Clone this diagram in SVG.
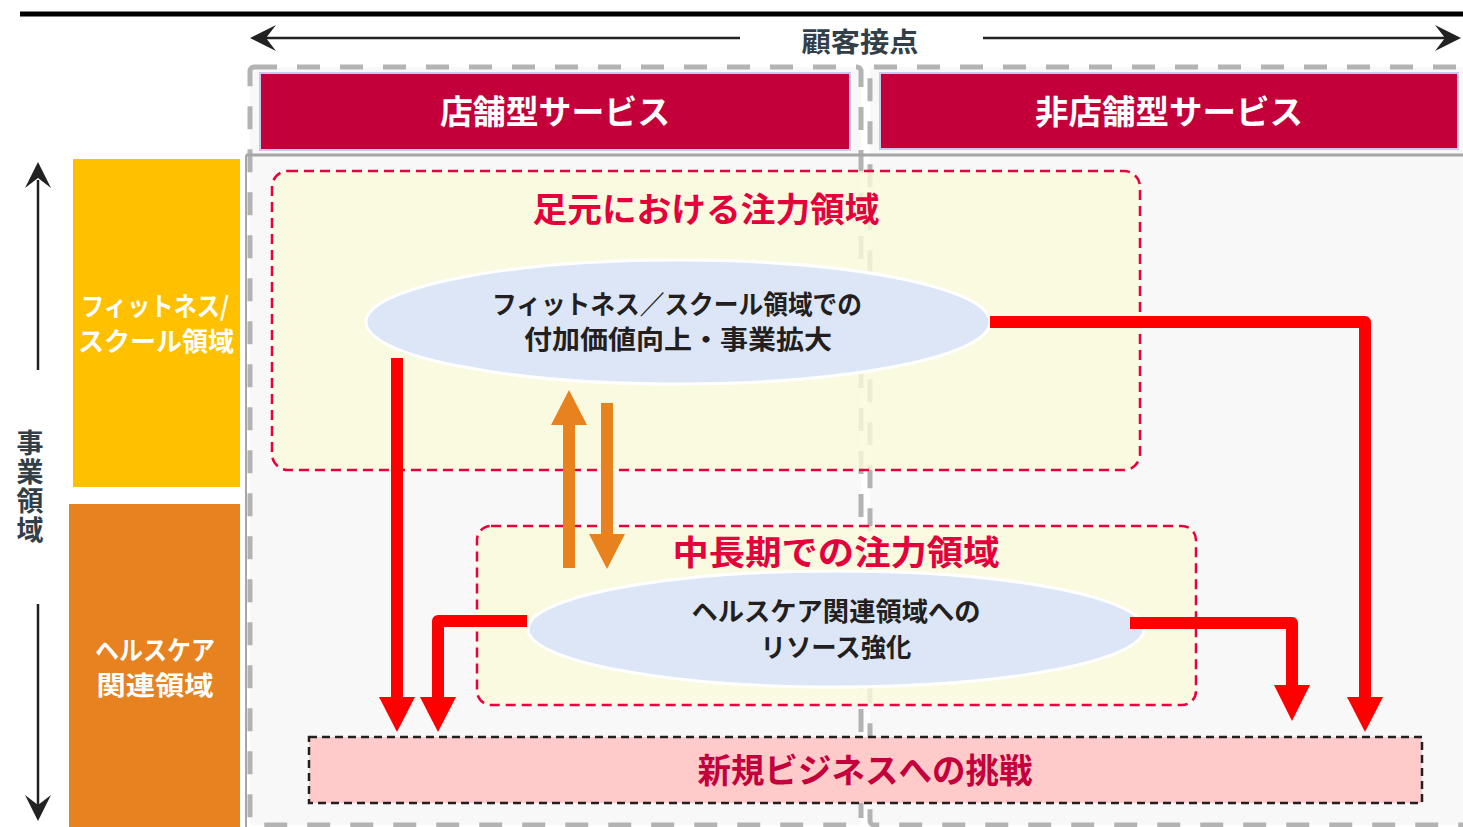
<svg xmlns="http://www.w3.org/2000/svg" width="1463" height="827" viewBox="0 0 1463 827">
<style>
text{font-family:"Noto Sans CJK JP","Noto Sans",sans-serif;font-weight:bold;text-anchor:middle}
.hdr{fill:#c4003a;stroke:#c9c9ec;stroke-width:2}
.hdrt{fill:#ffffff;font-size:33px}
.gdash{fill:#f8f8f8;stroke:#b3b3b3;stroke-width:5;stroke-dasharray:23 20}
.zone{fill:#fafadc;fill-opacity:0.82;stroke:#e8003c;stroke-width:2.5;stroke-dasharray:10 6}
.ztitle{fill:#e4003b;font-size:34px}
.ell{fill:#dde6f7;stroke:#ffffff;stroke-width:3}
.et{fill:#231f20;font-size:26px}
.side{fill:#ffffff;font-size:26px}
.axis{stroke:#222222;stroke-width:2.5;fill:none}
.ahead{fill:#222222}
.red{stroke:#ff0000;stroke-width:12;fill:none;stroke-linejoin:round}
.redh{fill:#ff0000}
.org{fill:#e8821e}
.dark{fill:#333f48}
</style>
<rect width="1463" height="827" fill="#ffffff"/>
<line x1="20" y1="14" x2="1463" y2="14" stroke="#000000" stroke-width="5"/>

<g id="axis-customer">
<line class="axis" x1="262" y1="38" x2="740" y2="38"/>
<line class="axis" x1="983" y1="38" x2="1448" y2="38"/>
<path class="ahead" d="M250,38 L276,25 L266,38 L276,51 Z"/>
<path class="ahead" d="M1461,38 L1435,25 L1445,38 L1435,51 Z"/>
<text class="dark" x="860" y="52" font-size="27" textLength="117" lengthAdjust="spacingAndGlyphs">顧客接点</text>
</g>

<g id="panels">
<rect class="gdash" x="250" y="67" width="611" height="758" rx="4"/>
<rect class="gdash" x="870" y="67" width="640" height="758" rx="4"/>
<line x1="246" y1="155" x2="1463" y2="155" stroke="#a6a6a6" stroke-width="3"/>
<line x1="246" y1="155" x2="246" y2="827" stroke="#a6a6a6" stroke-width="2"/>
</g>

<g id="header-store">
<rect class="hdr" x="260" y="73" width="590" height="77"/>
<text class="hdrt" x="555" y="124" textLength="230" lengthAdjust="spacingAndGlyphs">店舗型サービス</text>
</g>
<g id="header-nonstore">
<rect class="hdr" x="880" y="73" width="578" height="76"/>
<text class="hdrt" x="1169" y="124" textLength="268" lengthAdjust="spacingAndGlyphs">非店舗型サービス</text>
</g>

<g id="axis-business">
<line class="axis" x1="38" y1="180" x2="38" y2="370"/>
<path class="ahead" d="M38,162 L25,188 L38,178 L51,188 Z"/>
<line class="axis" x1="38" y1="604" x2="38" y2="805"/>
<path class="ahead" d="M38,821 L25,795 L38,805 L51,795 Z"/>
<text class="dark" font-size="27" x="30" y="487" writing-mode="vertical-rl" letter-spacing="2">事業領域</text>
</g>

<g id="domain-fitness">
<rect x="73" y="159" width="167" height="328" fill="#ffc000"/>
<text class="side"><tspan x="155" y="316" textLength="148" lengthAdjust="spacingAndGlyphs">フィットネス/</tspan><tspan x="156" y="351" textLength="156" lengthAdjust="spacingAndGlyphs">スクール領域</tspan></text>
</g>
<g id="domain-healthcare">
<rect x="69" y="504" width="171" height="323" fill="#e6821f"/>
<text class="side"><tspan x="155" y="660" textLength="120" lengthAdjust="spacingAndGlyphs">ヘルスケア</tspan><tspan x="155" y="695" textLength="117" lengthAdjust="spacingAndGlyphs">関連領域</tspan></text>
</g>

<g id="zone-current">
<rect class="zone" x="272" y="171" width="868" height="299" rx="16"/>
<text class="ztitle" x="706" y="222" textLength="347" lengthAdjust="spacingAndGlyphs">足元における注力領域</text>
</g>
<g id="zone-midterm">
<rect class="zone" x="477" y="526" width="719" height="179" rx="14"/>
<text class="ztitle" x="836" y="565" textLength="327" lengthAdjust="spacingAndGlyphs">中長期での注力領域</text>
</g>

<g id="node-fitness">
<ellipse class="ell" cx="678" cy="322" rx="312" ry="62"/>
<text class="et"><tspan x="677" y="314" textLength="370" lengthAdjust="spacingAndGlyphs">フィットネス／スクール領域での</tspan><tspan x="678" y="349" textLength="308" lengthAdjust="spacingAndGlyphs">付加価値向上・事業拡大</tspan></text>
</g>
<g id="node-healthcare">
<ellipse class="ell" cx="836" cy="629" rx="308" ry="58"/>
<text class="et"><tspan x="836" y="621" textLength="289" lengthAdjust="spacingAndGlyphs">ヘルスケア関連領域への</tspan><tspan x="836" y="657" textLength="151" lengthAdjust="spacingAndGlyphs">リソース強化</tspan></text>
</g>

<g id="node-newbiz">
<rect x="309" y="737" width="1113" height="66" fill="#ffcaca" stroke="#231f20" stroke-width="2.5" stroke-dasharray="8 5"/>
<text x="865" y="783" font-size="34" fill="#c4003c" textLength="335" lengthAdjust="spacingAndGlyphs">新規ビジネスへの挑戦</text>
</g>

<g id="connectors">
<rect class="org" x="563" y="424" width="12" height="144"/>
<polygon class="org" points="551,425 587,425 569,390"/>
<rect class="org" x="601" y="403" width="12" height="133"/>
<polygon class="org" points="589,534 625,534 607,569"/>

<path class="red" d="M397,358 V698"/>
<polygon class="redh" points="379,697 415,697 397,732"/>
<path class="red" d="M527,621 H438 V698"/>
<polygon class="redh" points="420,697 456,697 438,732"/>
<path class="red" d="M990,322 H1365 V698"/>
<polygon class="redh" points="1347,697 1383,697 1365,732"/>
<path class="red" d="M1130,623 H1292 V686"/>
<polygon class="redh" points="1274,685 1310,685 1292,721"/>
</g>
</svg>
